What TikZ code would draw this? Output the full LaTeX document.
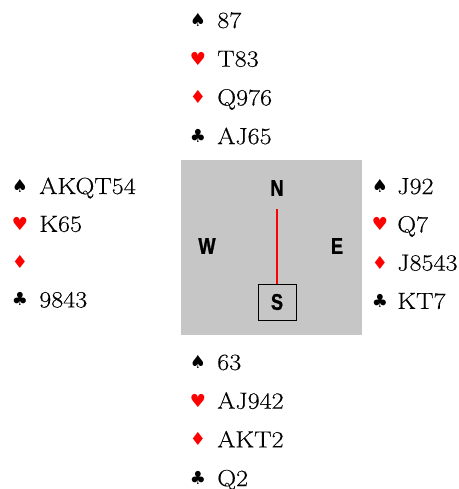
\documentclass[tikz,border=0pt]{standalone}
\usepackage{fontspec}
\setmainfont{Latin Modern Roman}[FakeStretch=1.12, FakeBold=0.3]
\newfontfamily\suitfont{DejaVu Sans}
\newfontfamily\seatfont{Liberation Sans}[FakeStretch=0.8, FakeBold=1.2]
\usetikzlibrary{positioning}

\definecolor{tablegray}{RGB}{198,198,198}

\tikzset{
	suit/.style={inner sep=0pt, font=\suitfont\fontsize{13.5}{15}\selectfont},
	cards/.style={anchor=west, inner sep=0pt, text height=12pt, text depth=0pt,
		font=\fontsize{17.5}{20}\selectfont},
	seat/.style={inner sep=0pt, font=\seatfont\bfseries\fontsize{17}{19}\selectfont},
}

\begin{document}
\begin{tikzpicture}[x=0.75pt, y=-0.75pt]

\useasboundingbox (0,0) rectangle (459,489);

% Table
\node[fill=tablegray, minimum width=181*0.75pt, minimum height=175*0.75pt,
	inner sep=0pt] (Table) at (271.5,247.5) {};

\node[seat] (N) at (277,188) {N};
\node[seat] (W) at (207,246) {W};
\node[seat] (E) at (337,246) {E};
\node[seat, draw, line width=0.6pt, minimum width=38*0.75pt,
	minimum height=36*0.75pt] (S) at (277,302) {S};

\draw[red, line width=2pt, shorten <=10pt] (N) -- (S);

% North hand
\foreach \s/\c/\h [count=\i] in {♠/black/87, ♥/red/T83, ♦/red/Q976, ♣/black/AJ65}
{
	\node[suit, text=\c] (NorthSuit-\i) at (198,{20+38.7*(\i-1)}) {\s};
	\node[cards] (North-\i) at (217,{20+38.7*(\i-1)}) {\h};
}

% West hand
\foreach \s/\c/\h [count=\i] in {♠/black/AKQT54, ♥/red/K65, ♦/red/{}, ♣/black/9843}
{
	\node[suit, text=\c] (WestSuit-\i) at (20,{186+37.8*(\i-1)}) {\s};
	\node[cards] (West-\i) at (39,{186+37.8*(\i-1)}) {\h};
}

% East hand
\foreach \s/\c/\h [count=\i] in {♠/black/J92, ♥/red/Q7, ♦/red/J8543, ♣/black/KT7}
{
	\node[suit, text=\c] (EastSuit-\i) at (380,{186+38.3*(\i-1)}) {\s};
	\node[cards] (East-\i) at (397,{186+38.3*(\i-1)}) {\h};
}

% South hand
\foreach \s/\c/\h [count=\i] in {♠/black/63, ♥/red/AJ942, ♦/red/AKT2, ♣/black/Q2}
{
	\node[suit, text=\c] (SouthSuit-\i) at (198,{362+38.7*(\i-1)}) {\s};
	\node[cards] (South-\i) at (217,{362+38.7*(\i-1)}) {\h};
}

\end{tikzpicture}
\end{document}
